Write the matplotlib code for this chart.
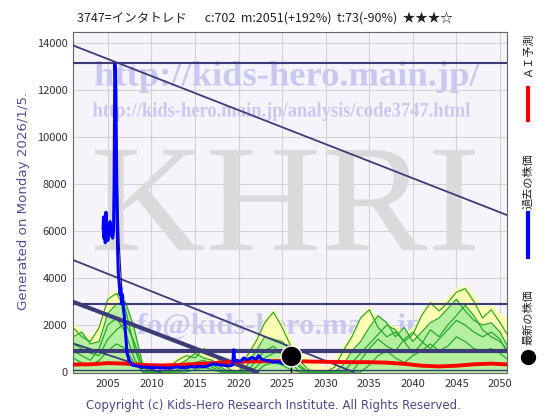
import numpy as np
import matplotlib.pyplot as plt
from matplotlib.lines import Line2D
from matplotlib.textpath import TextPath
from matplotlib.patches import PathPatch
from matplotlib.font_manager import FontProperties
from matplotlib.transforms import Affine2D, IdentityTransform

plt.rcParams['font.family'] = ['Noto Sans CJK JP', 'DejaVu Sans']

# ---- data ----
title = "3747=インタトレド　  c:702  m:2051(+192%)  t:73(-90%)  ★★★☆"

# past price (blue)
price_year = [2004.45, 2004.50, 2004.55, 2004.62, 2004.70, 2004.78, 2004.85, 2004.92, 2005.00,
              2005.08, 2005.15, 2005.25, 2005.35, 2005.45, 2005.55, 2005.65, 2005.72, 2005.80,
              2005.86, 2005.92, 2005.98, 2006.05, 2006.12, 2006.20, 2006.30, 2006.40, 2006.48,
              2006.58, 2006.68, 2006.78, 2006.88, 2007.00, 2007.20, 2007.50, 2007.80, 2008.0,
              2008.5, 2009.0, 2009.5, 2010.0, 2010.5, 2011.0, 2011.5, 2012.0, 2012.5, 2013.0,
              2013.5, 2014.0, 2014.5, 2015.0, 2015.5, 2016.0, 2016.5, 2017.0, 2017.5, 2018.0,
              2018.5, 2019.0, 2019.3, 2019.45, 2019.55, 2019.8, 2020.2, 2020.6, 2021.0, 2021.5,
              2022.0, 2022.3, 2022.6, 2023.0, 2023.5, 2024.0, 2024.5, 2025.0, 2025.3]
price_val = [6100, 6600, 5700, 6400, 5500, 6800, 6000, 6300, 5600,
             6100, 5900, 6400, 5800, 6200, 5700, 6000, 8000, 13100,
             12800, 12000, 9500, 7000, 5200, 4200, 3800, 3300, 3600,
             2900, 3300, 2700, 2400, 1800, 800, 450, 300, 280,
             250, 200, 220, 180, 200, 170, 190, 160, 200, 220,
             180, 200, 230, 210, 250, 220, 260, 350, 320, 300,
             280, 260, 300, 950, 450, 500, 450, 600, 520, 620,
             550, 700, 560, 500, 480, 420, 450, 380, 350]

# thin black trace beside the spike
trace_year = [2005.85, 2005.95, 2006.05, 2006.30, 2006.60, 2006.90, 2007.10, 2007.30]
trace_val = [13000, 11500, 8500, 5500, 3500, 2500, 1200, 500]

latest_year = 2026.0
latest_price = 702

# AI forecast (red)
ai_year = list(range(2001, 2052, 2))
ai_val = [320, 330, 380, 360, 300, 280, 300, 340, 380, 420, 450, 460, 470,
          460, 440, 430, 420, 420, 400, 350, 270, 240, 270, 330, 360, 320]

# forecast scenario curves (green), one value per year 2001..2051
g_year = list(range(2001, 2052))
g1 = [1900, 1500, 1300, 1900, 3100, 3350, 2700, 1100, 0, 0,
      0, 200, 500, 700, 600, 1000, 800, 400, 100, 0,
      700, 1300, 2100, 2550, 1900, 1100, 500, 100, 0, 0,
      200, 900, 1500, 2300, 2650, 1900, 1500, 1700, 1300, 1600,
      2400, 2950, 2600, 2950, 3400, 3550, 3000, 2300, 2650, 2100, 1500]
g2 = [1500, 1700, 1200, 1300, 2500, 2900, 3000, 1900, 300, 0,
      0, 0, 300, 500, 800, 600, 500, 200, 0, 0,
      300, 900, 1500, 1400, 1300, 900, 300, 0, 0, 0,
      0, 300, 900, 1300, 1900, 2400, 2100, 1500, 1900, 1300,
      1700, 2100, 2300, 2700, 3100, 2600, 2200, 2000, 2100, 1700, 1000]
g3 = [900, 700, 500, 1000, 2000, 2300, 1700, 600, 0, 0,
      0, 0, 100, 300, 400, 500, 300, 100, 0, 0,
      0, 500, 900, 1100, 700, 400, 0, 0, 0, 0,
      0, 0, 400, 800, 1200, 1600, 2000, 1800, 1300, 800,
      1200, 1800, 1500, 2000, 2400, 2850, 2400, 1800, 1500, 1300, 900]
g4 = [1200, 1000, 800, 700, 1400, 1800, 2100, 1300, 200, 0,
      0, 0, 0, 100, 300, 400, 200, 0, 0, 0,
      0, 200, 600, 800, 900, 600, 200, 0, 0, 0,
      0, 0, 0, 500, 1000, 1400, 1100, 900, 1400, 1700,
      1300, 1000, 1400, 1800, 2200, 2000, 1700, 1500, 1700, 1400, 700]
g5 = [600, 400, 300, 500, 900, 1200, 1000, 400, 0, 0,
      0, 0, 0, 0, 100, 200, 100, 0, 0, 0,
      0, 0, 300, 400, 300, 100, 0, 0, 0, 0,
      0, 0, 0, 0, 300, 700, 900, 600, 400, 700,
      900, 1200, 900, 1100, 1500, 1300, 1000, 900, 1000, 800, 500]
yellow_top = [2100, 1800, 1500, 2100, 3300, 3500, 3100, 2000, 500, 0,
              100, 400, 700, 800, 800, 1100, 900, 600, 300, 200,
              900, 1500, 2300, 2700, 2100, 1400, 900, 600, 400, 200,
              600, 1200, 1700, 2400, 2800, 2300, 2000, 2000, 1700, 1900,
              2600, 3100, 3000, 3200, 3600, 3700, 3300, 2800, 2900, 2500, 2300]

# support / resistance lines
h_levels = [13150, 2880, 906, 85]
h_widths = [1.5, 1.5, 3.0, 1.0]
d_x = [(2001.0, 2050.8), (2001.0, 2033.2), (2001.0, 2022.1), (2001.0, 2011.0)]
d_y = [(13900, 6680), (4770, 0), (2990, 0), (1220, 0)]
d_widths = [1.3, 1.3, 3.0, 1.3]

yticks = list(range(0, 14001, 2000))
xticks = list(range(2005, 2051, 5))

# ---- figure ----
navy = '#3c3c78'
W, H = 560, 420
fig = plt.figure(figsize=(5.6, 4.2), dpi=100)
ax = fig.add_axes([73 / W, 1 - 373 / H, 434 / W, 341 / H])
ax.set_facecolor('#f6f3fa')
ax.set_xlim(2001.0, 2050.8)
ax.set_ylim(-40, 14470)
ax.set_xticks(xticks)
ax.set_yticks(yticks)
ax.tick_params(length=0, labelsize=8, labelcolor='#333333', pad=4)
ax.grid(True, color='#d2d2d2', lw=0.8, zorder=0)
ax.set_axisbelow(True)
for s in ax.spines.values():
    s.set_color('#666666')
    s.set_linewidth(0.8)


def box_text(s, x0, x1, ytop, ybot, color, bold=True):
    # stretch serif text into a pixel box (top-left origin), like the watermarks
    fp = FontProperties(family='Liberation Serif', weight='bold' if bold else 'normal')
    tp = TextPath((0, 0), s, size=10, prop=fp)
    ext = tp.get_extents()
    tr = (Affine2D().translate(-ext.x0, -ext.y0)
          .scale((x1 - x0) / ext.width, (ybot - ytop) / ext.height)
          .translate(x0, H - ybot))
    patch = PathPatch(tr.transform_path(tp), facecolor=color, lw=0,
                      transform=IdentityTransform(), zorder=1)
    ax.add_artist(patch)


box_text('http://kids-hero.main.jp/', 95, 480, 61, 93, '#c8c8f0')
box_text('http://kids-hero.main.jp/analysis/code3747.html', 93, 470, 102, 121, '#c8c8f0')
box_text('KHRI', 95, 475, 150, 250, '#dadada', bold=False)
box_text('info@kids-hero.main.jp', 112, 422, 313, 340, '#c8c8f0')

# forecast band
ax.fill_between(g_year, 0, yellow_top, color='#ffffb4', lw=0, zorder=2)
ax.fill_between(g_year, 0, g2, color='#b4f0a0', lw=0, zorder=2)
ax.fill_between(g_year, 0, g3, color='#b4f0a0', lw=0, zorder=2)
for g in [g1, g2, g3, g4, g5]:
    ax.plot(g_year, g, color='#2aaa2a', lw=0.9, zorder=3)

# lines
for lv, w in zip(h_levels, h_widths):
    ax.axhline(lv, color=navy, lw=w, zorder=4)
for xs, ys, w in zip(d_x, d_y, d_widths):
    ax.plot(xs, ys, color=navy, lw=w, zorder=4)

ax.plot(ai_year, ai_val, color='#ff0000', lw=2.8, zorder=5)
ax.plot(trace_year, trace_val, color='#222222', lw=0.8, zorder=5)
ax.plot(price_year, price_val, color='#0000ff', lw=2.2, zorder=6)
ax.plot([latest_year, latest_year], [0, latest_price], color='black', lw=1, zorder=6)
ax.plot(latest_year, latest_price, 'o', ms=15, color='black', mec='white', mew=1, zorder=7)

# texts around
fig.text(265 / W, 1 - 18 / H, title, ha='center', va='center', fontsize=9, color='#222222')
fig.text(24 / W, 1 - 201 / H, 'Generated on Monday 2026/1/5.', rotation=90, ha='center',
         va='center', family='DejaVu Sans', fontsize=9.6, color='#50509a')
fig.text(273 / W, 1 - 405 / H,
         'Copyright (c) Kids-Hero Research Institute. All Rights Reserved.',
         ha='center', va='center', family='DejaVu Sans', fontsize=8.5, color='#4a4a8a')

# right side legend
lx = 528 / W
fig.text(lx, 1 - 55 / H, 'ＡＩ予測', rotation=90, ha='center', va='center', fontsize=8, color='#222222')
fig.add_artist(Line2D([lx, lx], [1 - 88 / H, 1 - 120 / H], color='#ff0000', lw=3))
fig.text(lx, 1 - 181 / H, '過去の株価', rotation=90, ha='center', va='center', fontsize=8, color='#222222')
fig.add_artist(Line2D([lx, lx], [1 - 213 / H, 1 - 257 / H], color='#0000ff', lw=3))
fig.text(lx, 1 - 317 / H, '最新の株価', rotation=90, ha='center', va='center', fontsize=8, color='#222222')
fig.add_artist(Line2D([lx], [1 - 357 / H], marker='o', ms=10, color='black', lw=0))

fig.savefig('out.png', dpi=100)
